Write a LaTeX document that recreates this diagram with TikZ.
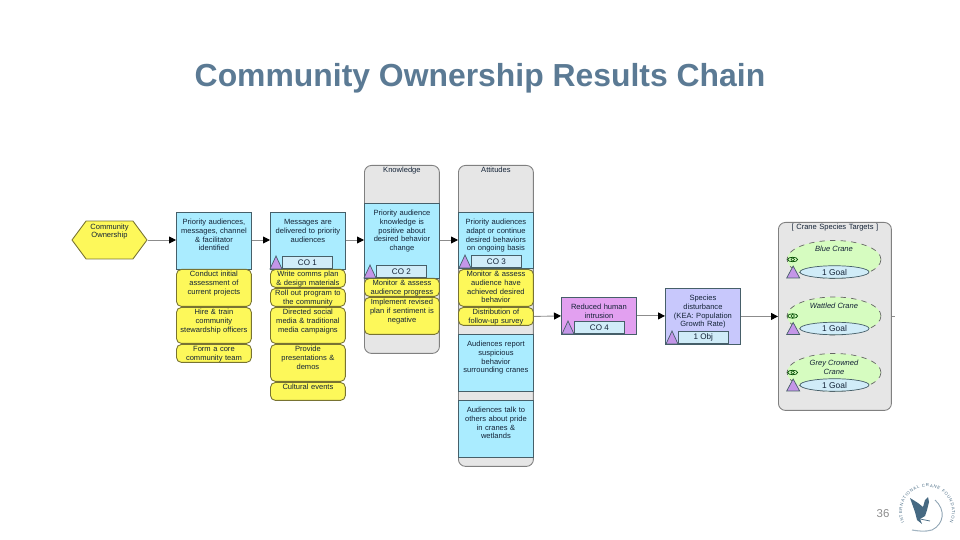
\documentclass[tikz,border=0pt]{standalone}
\usepackage{fontspec}
\setmainfont{Liberation Sans}
\usetikzlibrary{arrows.meta,calc,shapes.geometric,shapes.symbols,decorations.text}
\definecolor{titleblue}{RGB}{91,122,148}
\definecolor{cellblue}{RGB}{170,236,255}
\definecolor{cellyellow}{RGB}{253,248,90}
\definecolor{cellgray}{RGB}{230,230,230}
\definecolor{cellpink}{RGB}{226,160,240}
\definecolor{cellviolet}{RGB}{200,200,252}
\definecolor{cellgreen}{RGB}{214,252,192}
\definecolor{tagblue}{RGB}{208,236,248}
\definecolor{tripurple}{RGB}{196,150,232}
\definecolor{edgeteal}{RGB}{70,95,105}
\definecolor{edgeolive}{RGB}{120,115,50}
\definecolor{inkdark}{RGB}{20,35,55}
\definecolor{logoblue}{RGB}{70,105,130}
\tikzset{
  cellbase/.style={rectangle, anchor=north west, inner sep=0pt, line width=0.5pt,
                   text width=1.5cm, align=center, text=inkdark,
                   font=\fontsize{4.3}{5}\selectfont},
  blue/.style={cellbase, draw=edgeteal, fill=cellblue, text height=0.24cm,
               text depth=\dimexpr#1-0.24cm\relax},
  yellow/.style={cellbase, draw=edgeolive, fill=cellyellow, rounded corners=0.1cm,
                 text height=0.14cm, text depth=\dimexpr#1-0.14cm\relax},
  group/.style={cellbase, draw=black!50, fill=cellgray, rounded corners=0.14cm,
                text height=0.14cm, text depth=\dimexpr#1-0.14cm\relax},
  tag/.style={rectangle, anchor=south west, draw=edgeteal, fill=tagblue, inner sep=0pt,
              line width=0.4pt, minimum width=1cm, minimum height=0.25cm, text=inkdark,
              font=\fontsize{4.6}{5}\selectfont},
  tri/.style={draw=edgeteal, fill=tripurple, line width=0.4pt},
  goal/.style={ellipse, draw=edgeteal, fill=tagblue, inner sep=0pt, line width=0.4pt,
               minimum width=1.38cm, minimum height=0.25cm, text=inkdark,
               font=\fontsize{4.8}{5}\selectfont},
  target/.style={ellipse, draw=black!60, dashed, fill=cellgreen, inner sep=0pt, line width=0.4pt,
                 minimum width=1.88cm, minimum height=0.76cm},
  targettxt/.style={inner sep=0pt, align=center, text=inkdark, font=\fontsize{4.3}{5}\selectfont\itshape},
  eye/.style={ellipse, draw=black!70!green, fill=cellgreen, inner sep=0pt, line width=0.4pt,
              minimum width=0.2cm, minimum height=0.09cm},
  link/.style={-{Triangle[length=1.4mm,width=1.4mm,black]}, line width=0.5pt, black!45}
}
\begin{document}
\begin{tikzpicture}[x=0.02cm,y=-0.02cm]
\useasboundingbox (0,0) rectangle (960,540);
\node[font=\fontsize{18.15}{20}\selectfont\bfseries, text=titleblue, inner sep=0pt] (title) at (480,78) {Community Ownership Results Chain};
% containers
\node[group=3.76cm] (know) at (364,165) {Knowledge};
\node[group=6.02cm] (att) at (458,165) {Attitudes};
\node[group=3.76cm, text width=2.26cm] (crane) at (778,222) {[ Crane Species Targets ]};
% start
\node[signal, signal to=east and west, signal pointer angle=107, draw=edgeolive, fill=cellyellow, line width=0.5pt, inner sep=0pt, minimum width=1.5cm, minimum height=0.76cm, align=center, text=inkdark, font=\fontsize{4.3}{5}\selectfont, text height=0.1cm, text depth=0.18cm] (own) at (109.5,240) {Community\\Ownership};
% column 1
\node[blue=1.14cm] (aud) at (176,212) {Priority audiences,\\messages, channel\\\& facilitator\\identified};
\node[yellow=0.74cm] (y11) at (176,269) {Conduct initial\\assessment of\\current projects};
\node[yellow=0.72cm] (y12) at (176,307) {Hire \& train\\community\\stewardship officers};
\node[yellow=0.36cm] (y13) at (176,344) {Form a core\\community team};
% column 2
\node[blue=1.14cm] (msg) at (270,212) {Messages are\\delivered to priority\\audiences};
\node[tag] (co1) at (282,269) {CO 1};
\node[yellow=0.36cm] (y21) at (270,269) {Write comms plan\\\& design materials};
\node[yellow=0.36cm] (y22) at (270,288) {Roll out program to\\the community};
\node[yellow=0.72cm] (y23) at (270,307) {Directed social\\media \& traditional\\media campaigns};
\node[yellow=0.74cm] (y24) at (270,344) {Provide\\presentations \&\\demos};
\node[yellow=0.36cm] (y25) at (270,382) {Cultural events};
% column 3
\node[blue=1.5cm] (pos) at (364,203) {Priority audience\\knowledge is\\positive about\\desired behavior\\change};
\node[tag] (co2) at (376,278) {CO 2};
\node[yellow=0.36cm] (y31) at (364,278) {Monitor \& assess\\audience progress};
\node[yellow=0.74cm] (y32) at (364,297) {Implement revised\\plan if sentiment is\\negative};
% column 4
\node[blue=1.12cm] (adapt) at (458,212) {Priority audiences\\adapt or continue\\desired behaviors\\on ongoing basis};
\node[tag] (co3) at (471,268) {CO 3};
\node[yellow=0.74cm] (y41) at (458,269) {Monitor \& assess\\audience have\\achieved desired\\behavior};
\node[yellow=0.36cm] (y42) at (458,307) {Distribution of\\follow-up survey};
\node[blue=1.14cm] (rep) at (458,334) {Audiences report\\suspicious\\behavior\\surrounding cranes};
\node[blue=1.14cm] (talk) at (458,400) {Audiences talk to\\others about pride\\in cranes \&\\wetlands};
% threats and targets
\node[blue=0.74cm, fill=cellpink] (intr) at (561,297) {Reduced human\\intrusion};
\node[tag] (co4) at (574,334) {CO 4};
\node[blue=1.12cm, fill=cellviolet] (dist) at (665,288) {Species\\disturbance\\(KEA: Population\\Growth Rate)};
\node[tag] (obj) at (678,344) {1 Obj};
\node[target] (t1) at (834,259.5) {};
\node[target] (t2) at (834,316) {};
\node[target] (t3) at (834,372.5) {};
\node[targettxt] (n1) at (834,249) {Blue Crane};
\node[targettxt] (n2) at (834,306) {Wattled Crane};
\node[targettxt] (n3) at (834,367) {Grey Crowned\\Crane};
\node[goal] (g1) at (834.5,272) {1 Goal};
\node[goal] (g2) at (834.5,328.5) {1 Goal};
\node[goal] (g3) at (834.5,385) {1 Goal};
% triangles
\foreach \n in {co1,co2,co3,co4,obj}
  \draw[tri] (\n.south west) -- ++(-12,0) -- ++(6,-13) -- cycle;
\foreach \n in {g1,g2,g3}{
  \draw[tri] (\n.west)++(0,6) -- ++(-13,0) -- ++(6.5,-12) -- cycle;
  \node[eye] (e\n) at ($(\n.west)+(-7,-12.5)$) {};
  \node[circle, draw=black!70!green, inner sep=0pt, minimum size=0.07cm, line width=0.3pt] (c\n) at (e\n) {};
}
% links
\draw[link] (own.east) -- (aud.west |- own.east);
\draw[link] (aud.east |- own.east) -- (msg.west |- own.east);
\draw[link] (msg.east |- own.east) -- (pos.west |- own.east);
\draw[link] (pos.east |- own.east) -- (adapt.west |- own.east);
\draw[link] (y42.east) -- (intr.west);
\draw[link] (intr.east) -- (intr.east -| dist.west);
\draw[link] (dist.east) -- (dist.east -| crane.west);
\coordinate (stub) at (895,316);
\draw[line width=0.5pt, black!45] (crane.east |- stub) -- (stub);
% footer
\node[text=black!45, inner sep=0pt, font=\fontsize{6.5}{8}\selectfont] (page) at (883,514) {36};
\path[decorate, decoration={text along path, text align=fit to path,
  text={|\fontsize{2.4}{3}\selectfont\color{logoblue}|INTERNATIONAL CRANE FOUNDATION}}]
  (927,512)+(-205:25) arc[start angle=-205, end angle=25, radius=25];
\fill[logoblue] (910,498) -- (918,503) -- (923,507) -- (925,500) -- (928,497) -- (929,502) -- (927,510) -- (925,516) -- (920,519) -- (922,524) -- (917,520) -- (915,512) -- cycle;
\draw[logoblue, line width=0.4pt] (920,519) -- (930,521);
\draw[logoblue!60, line width=0.5pt] (935,500) .. controls (946,510) and (944,524) .. (932,530);
\draw[logoblue!50, line width=0.6pt] (932,530) .. controls (925,532) and (918,531) .. (912,530);
\end{tikzpicture}
\end{document}
